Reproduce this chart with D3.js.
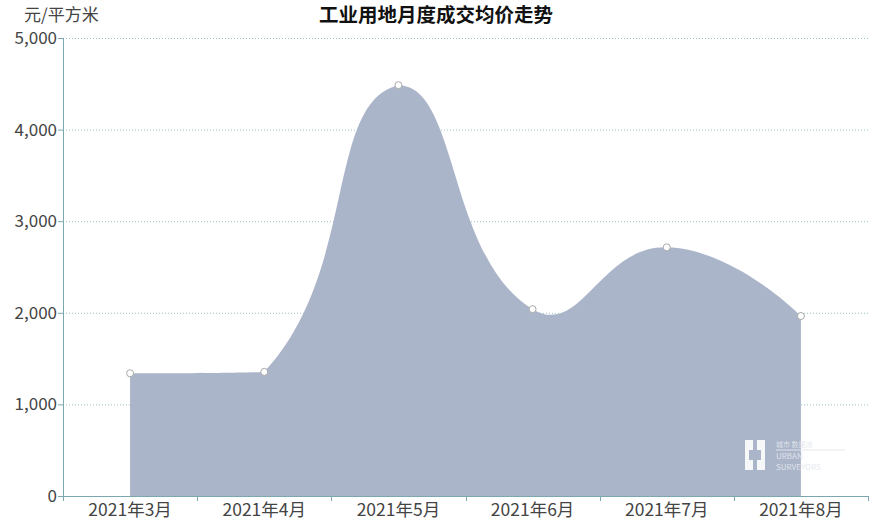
<!DOCTYPE html>
<html>
<head>
<meta charset="utf-8">
<script src="https://cdn.jsdelivr.net/npm/d3@7"></script>
<style>
  html, body { margin: 0; padding: 0; background: #ffffff; }
  svg { display: block; font-family: "Noto Sans CJK SC", "Noto Sans", sans-serif; }
</style>
</head>
<body>
<svg id="chart" width="878" height="522"></svg>
<script>
const categories = ["2021年3月", "2021年4月", "2021年5月", "2021年6月", "2021年7月", "2021年8月"];
const prices = [1340, 1355, 4485, 2040, 2715, 1965];
const yTicks = [0, 1000, 2000, 3000, 4000, 5000];
const chartTitle = "工业用地月度成交均价走势";
const yUnit = "元/平方米";

const W = 878, H = 522;
const margin = { left: 63, right: 10, top: 38, bottom: 26 };
const svg = d3.select("#chart");

const x = d3.scaleBand().domain(categories).range([margin.left, W - margin.right]).padding(0);
const y = d3.scaleLinear().domain([0, 5000]).range([H - margin.bottom, margin.top]);

const axisColor = "#7aa8ae";

// gridlines
svg.append("g").selectAll("line").data(yTicks.filter(d => d > 0)).join("line")
  .attr("x1", margin.left).attr("x2", W - margin.right)
  .attr("y1", d => y(d) + 0.5).attr("y2", d => y(d) + 0.5)
  .attr("stroke", "#9cc4c6").attr("stroke-width", 1).attr("stroke-dasharray", "1,2");

// ECharts-like smooth path (smooth = 0.5, constrained to point bounding box)
const pts = categories.map((c, i) => [x(c) + x.bandwidth() / 2, y(prices[i])]);
function smoothPath(points, smooth) {
  const xs = points.map(p => p[0]), ys = points.map(p => p[1]);
  const mn = [d3.min(xs), d3.min(ys)], mx = [d3.max(xs), d3.max(ys)];
  const clamp = p => [Math.max(mn[0], Math.min(mx[0], p[0])), Math.max(mn[1], Math.min(mx[1], p[1]))];
  let d = "M" + points[0][0] + "," + points[0][1];
  let cp0 = points[0].slice();
  for (let k = 1; k < points.length; k++) {
    const p = points[k];
    let cp1, v = [0, 0], ratio = 0.5;
    if (k === points.length - 1) {
      cp1 = p.slice();
    } else {
      const prev = points[k - 1], next = points[k + 1];
      v = [next[0] - prev[0], next[1] - prev[1]];
      const lp = Math.hypot(p[0] - prev[0], p[1] - prev[1]);
      const ln = Math.hypot(p[0] - next[0], p[1] - next[1]);
      ratio = ln / (ln + lp);
      cp1 = [p[0] - v[0] * smooth * (1 - ratio), p[1] - v[1] * smooth * (1 - ratio)];
    }
    cp0 = clamp(cp0); cp1 = clamp(cp1);
    d += "C" + cp0[0] + "," + cp0[1] + "," + cp1[0] + "," + cp1[1] + "," + p[0] + "," + p[1];
    cp0 = [p[0] + v[0] * smooth * ratio, p[1] + v[1] * smooth * ratio];
  }
  return d;
}
const topEdge = smoothPath(pts, 0.5);
const base = y(0);
const areaD = topEdge + "L" + pts[pts.length - 1][0] + "," + base + "L" + pts[0][0] + "," + base + "Z";
svg.append("path").attr("d", areaD).attr("fill", "#abb5c9");

// axes
svg.append("line").attr("x1", margin.left + 0.5).attr("x2", margin.left + 0.5)
  .attr("y1", margin.top).attr("y2", y(0)).attr("stroke", axisColor).attr("stroke-width", 1);
svg.append("line").attr("x1", margin.left).attr("x2", W - margin.right)
  .attr("y1", y(0) + 0.5).attr("y2", y(0) + 0.5).attr("stroke", axisColor).attr("stroke-width", 1);

// y ticks
const yg = svg.append("g");
yg.selectAll("line").data(yTicks).join("line")
  .attr("x1", margin.left - 5).attr("x2", margin.left)
  .attr("y1", d => y(d) + 0.5).attr("y2", d => y(d) + 0.5)
  .attr("stroke", axisColor);
yg.selectAll("text").data(yTicks).join("text")
  .attr("x", margin.left - 6).attr("y", d => y(d)).attr("dy", "0.35em")
  .attr("text-anchor", "end").attr("font-size", 17).attr("fill", "#444")
  .text(d => d3.format(",")(d));

// x ticks at band boundaries
const bounds = categories.map(c => x(c)).concat([x.range()[1]]);
svg.append("g").selectAll("line").data(bounds).join("line")
  .attr("x1", d => Math.round(d) + 0.5).attr("x2", d => Math.round(d) + 0.5)
  .attr("y1", y(0)).attr("y2", y(0) + 5).attr("stroke", axisColor);
svg.append("g").selectAll("text").data(categories).join("text")
  .attr("x", d => x(d) + x.bandwidth() / 2).attr("y", y(0) + 20)
  .attr("text-anchor", "middle").attr("font-size", 17.5).attr("fill", "#444")
  .text(d => d);

// points
svg.append("g").selectAll("circle").data(pts).join("circle")
  .attr("cx", d => d[0]).attr("cy", d => d[1]).attr("r", 3.5)
  .attr("fill", "#fff").attr("stroke", "#a9a9a9").attr("stroke-width", 1);

// title & unit
svg.append("text").attr("x", 436).attr("y", 22).attr("text-anchor", "middle")
  .attr("font-size", 19.5).attr("font-weight", "bold").attr("fill", "#111").text(chartTitle);
svg.append("text").attr("x", 24).attr("y", 21).attr("font-size", 17).attr("fill", "#444").text(yUnit);

// watermark
const wm = svg.append("g").attr("opacity", 0.9);
wm.append("rect").attr("x", 745).attr("y", 440).attr("width", 8).attr("height", 30).attr("fill", "#fff");
wm.append("rect").attr("x", 757).attr("y", 440).attr("width", 8).attr("height", 30).attr("fill", "#fff");
wm.append("rect").attr("x", 749).attr("y", 450).attr("width", 12).attr("height", 10).attr("fill", "#abb5c9");
wm.append("text").attr("x", 776).attr("y", 447).attr("font-size", 7).attr("fill", "#e4e7ee").text("城市 数据派");
wm.append("line").attr("x1", 776).attr("x2", 845).attr("y1", 450).attr("y2", 450).attr("stroke", "#e4e7ee");
wm.append("text").attr("x", 776).attr("y", 459).attr("font-size", 8).attr("fill", "#e4e7ee").text("URBAN");
wm.append("text").attr("x", 776).attr("y", 470).attr("font-size", 8).attr("fill", "#e4e7ee").text("SURVEYORS");
</script>
</body>
</html>
